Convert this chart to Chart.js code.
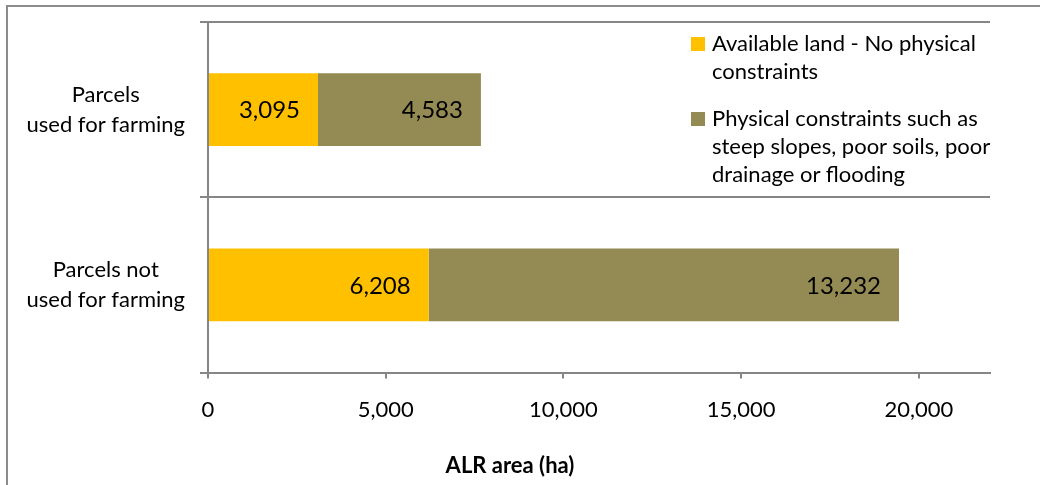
<!DOCTYPE html>
<html>
<head>
<meta charset="utf-8">
<script src="https://cdn.jsdelivr.net/npm/chart.js@4/dist/chart.umd.min.js"></script>
<style>
  body { margin: 0; background: #fff; }
  #wrap { position: relative; width: 1040px; height: 485px; overflow: hidden; }
  #frame { position: absolute; left: 6px; top: 5px; width: 1100px; height: 600px; border: 2px solid #8c8c8c; }
  canvas { position: absolute; left: 0; top: 0; }
  #legend { position: absolute; left: 691px; top: 29px; font: 22px Lato, sans-serif; line-height: 28px; color: #000; }
  .item { position: relative; padding-left: 21px; margin-bottom: 19px; white-space: nowrap; }
  .item span { position: absolute; left: 0; top: 8px; width: 14px; height: 14px; }
</style>
</head>
<body>
<div id="wrap">
  <div id="frame"></div>
  <canvas id="chart" width="1040" height="485"></canvas>
  <div id="legend"></div>
</div>
<script>
const categories = [['Parcels', 'used for farming'], ['Parcels not', 'used for farming']];
const seriesNames = [
  'Available land - No physical constraints',
  'Physical constraints such as steep slopes, poor soils, poor drainage or flooding'
];
const legendLines = [
  ['Available land - No physical', 'constraints'],
  ['Physical constraints such as', 'steep slopes, poor soils, poor', 'drainage or flooding']
];
const availableLand = [3095, 6208];
const constrainedLand = [4583, 13232];
const xTicks = [0, 5000, 10000, 15000, 20000];
const colors = ['#FFC000', '#948A54'];

const gridColor = '#868686';
const fontFamily = 'Lato, sans-serif';

// legend with wrapped lines, like the Excel one
document.getElementById('legend').innerHTML = legendLines.map((lines, i) =>
  '<div class="item"><span style="background:' + colors[i] + '"></span>' + lines.join('<br>') + '</div>'
).join('');

// value labels at the inside end of each segment
const valueLabels = {
  id: 'valueLabels',
  afterDatasetsDraw(chart) {
    const ctx = chart.ctx;
    ctx.save();
    ctx.font = '24px ' + fontFamily;
    ctx.fillStyle = '#000';
    ctx.textAlign = 'right';
    ctx.textBaseline = 'middle';
    chart.data.datasets.forEach((ds, di) => {
      chart.getDatasetMeta(di).data.forEach((bar, i) => {
        ctx.fillText(ds.data[i].toLocaleString('en-US'), bar.x - 18, bar.y + 1);
      });
    });
    ctx.restore();
  }
};

// axis title sits left of centre in the original
const axisTitle = {
  id: 'axisTitle',
  afterDraw(chart) {
    const ctx = chart.ctx;
    ctx.save();
    ctx.font = 'bold 22px ' + fontFamily;
    ctx.fillStyle = '#000';
    ctx.textAlign = 'center';
    ctx.textBaseline = 'middle';
    ctx.fillText('ALR area (ha)', 510, 466);
    ctx.restore();
  }
};

const ctx = document.getElementById('chart').getContext('2d');
new Chart(ctx, {
  type: 'bar',
  data: {
    labels: categories,
    datasets: [
      { label: seriesNames[0], data: availableLand, backgroundColor: colors[0], barPercentage: 0.415, categoryPercentage: 1 },
      { label: seriesNames[1], data: constrainedLand, backgroundColor: colors[1], barPercentage: 0.415, categoryPercentage: 1 }
    ]
  },
  options: {
    indexAxis: 'y',
    responsive: false,
    animation: false,
    layout: { padding: { left: 8, right: 50, top: 22, bottom: 44 } },
    plugins: {
      legend: { display: false },
      tooltip: { enabled: false }
    },
    scales: {
      x: {
        stacked: true,
        min: 0,
        max: 22000,
        afterBuildTicks: (scale) => { scale.ticks = xTicks.map(v => ({ value: v })); },
        grid: { drawOnChartArea: false, tickLength: 6, color: gridColor, lineWidth: 2 },
        border: { color: gridColor, width: 2 },
        ticks: {
          padding: 18,
          color: '#000',
          maxRotation: 0,
          autoSkip: false,
          font: { family: fontFamily, size: 22 },
          callback: (v) => v.toLocaleString('en-US')
        }
      },
      y: {
        stacked: true,
        afterFit: (scale) => {
          scale.width = 200;
          // two-line labels otherwise push the plot area in
          scale.paddingTop = 0;
          scale.paddingBottom = 0;
        },
        grid: { offset: true, color: gridColor, lineWidth: 2, tickLength: 8 },
        border: { color: gridColor, width: 2 },
        ticks: {
          crossAlign: 'center',
          padding: 15,
          color: '#000',
          font: { family: fontFamily, size: 22, lineHeight: 1.36 }
        }
      }
    }
  },
  plugins: [valueLabels, axisTitle]
});
</script>
</body>
</html>
